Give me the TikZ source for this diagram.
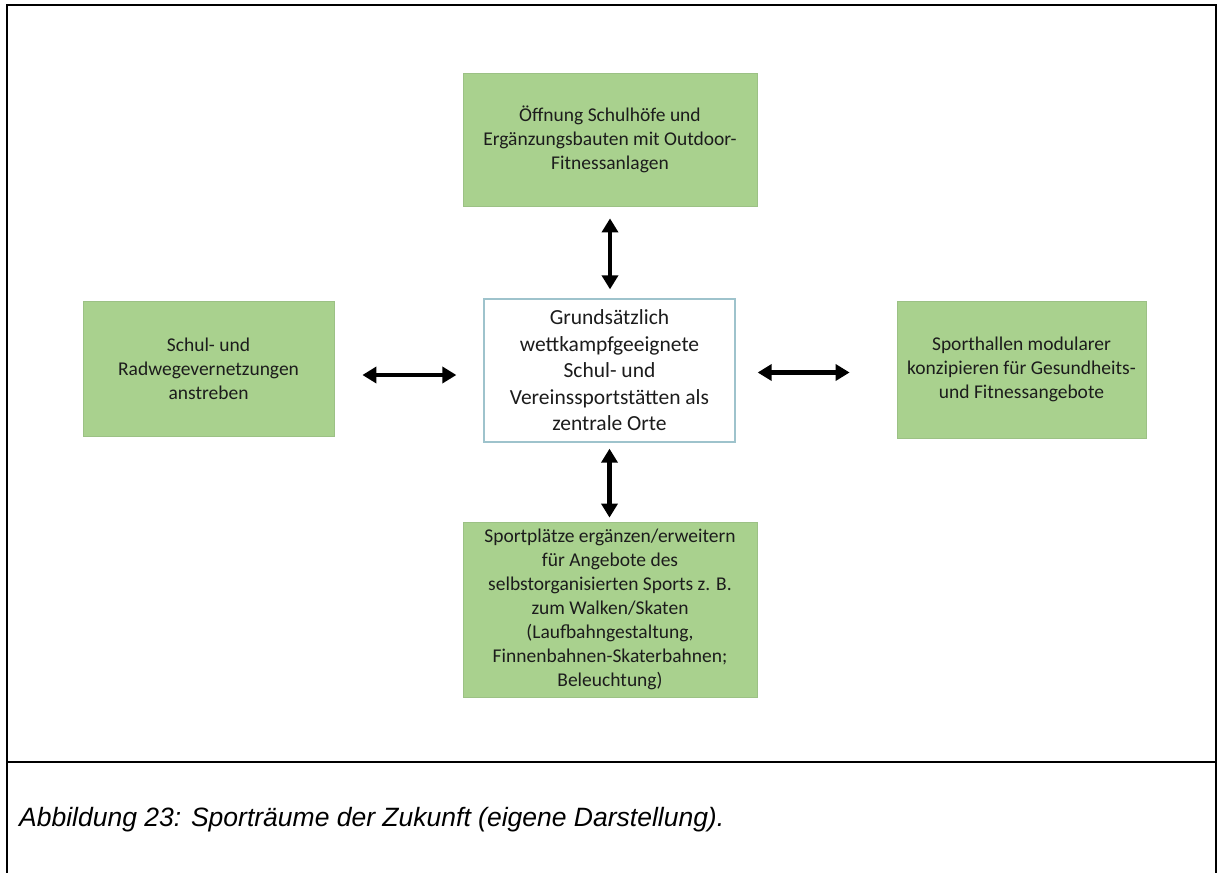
\documentclass[tikz,border=0pt]{standalone}
\usepackage{fontspec}
\setmainfont{Carlito}
\newfontfamily\capfont{Liberation Sans}
\usetikzlibrary{arrows.meta,calc}
\definecolor{boxgreen}{HTML}{A9D18E}
\definecolor{greenedge}{HTML}{9CC185}
\definecolor{centeredge}{HTML}{9EC3CC}
\definecolor{txt}{HTML}{1C1C1C}
\tikzset{
  x=1pt, y=-1pt,
  greenbox/.style={fill=boxgreen, draw=greenedge, line width=0.8pt, inner sep=0pt,
    align=center, text=txt, font=\fontsize{19.5}{24}\selectfont},
  centerbox/.style={fill=white, draw=centeredge, line width=1.3pt, inner sep=0pt,
    align=center, text=txt, font=\fontsize{21.5}{26.5}\selectfont},
  dblarrow/.style={line width=4.5pt, {Triangle[length=14pt,width=16pt]}-{Triangle[length=14pt,width=16pt]}},
  frameline/.style={line width=2.5pt, black}
}
\begin{document}
\begin{tikzpicture}
\useasboundingbox (0,0) rectangle (1217,872);
% frame
\draw[frameline] (7,880) -- (7,5) -- (1216,5) -- (1216,880);
\draw[frameline] (7,762) -- (1216,762);

% nodes
\node[greenbox, minimum width=294pt, minimum height=133pt] (top) at (610,139.5)
  {Öffnung Schulhöfe und\\Ergänzungsbauten mit Outdoor-\\Fitnessanlagen};
\node[centerbox, minimum width=251pt, minimum height=143pt] (center) at (609.5,370.5)
  {Grundsätzlich\\wettkampfgeeignete\\Schul- und\\Vereinssportstätten als\\zentrale Orte};
\node[greenbox, minimum width=294pt, minimum height=175pt] (bottom) at (610,609.5)
  {Sportplätze ergänzen/erweitern\\für Angebote des\\selbstorganisierten Sports z. B.\\zum Walken/Skaten\\(Laufbahngestaltung,\\Finnenbahnen-Skaterbahnen;\\Beleuchtung)};
\node[greenbox, minimum width=251pt, minimum height=135pt] (left) at (208.5,368.5)
  {Schul- und\\Radwegevernetzungen\\anstreben};
\node[greenbox, minimum width=249pt, minimum height=137pt] (right) at (1021.5,369.5)
  {Sporthallen modularer\\konzipieren für Gesundheits-\\und Fitnessangebote};

% arrows
\draw[dblarrow, shorten <=12pt, shorten >=9pt] (top.south) -- (top.south |- center.north);
\draw[dblarrow, shorten <=6pt, shorten >=4pt] (center.south) -- (center.south |- bottom.north);
\draw[dblarrow, shorten <=28pt, shorten >=27pt] ([yshift=-6.5pt]left.east) -- ([yshift=-6.5pt]left.east -| center.west);
\draw[dblarrow, shorten <=22pt, shorten >=47pt] ([yshift=-2pt]center.east) -- ([yshift=-2pt]center.east -| right.west);

% caption
\node[anchor=base west, inner sep=0pt, font=\capfont\itshape\fontsize{26.5}{31}\selectfont] (caption) at (19,826)
  {Abbildung 23: Sporträume der Zukunft (eigene Darstellung).};
\end{tikzpicture}
\end{document}
